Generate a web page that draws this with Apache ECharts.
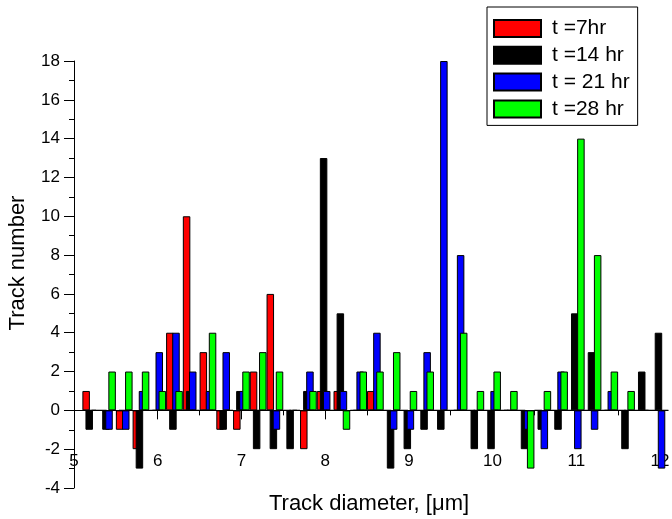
<!DOCTYPE html>
<html><head><meta charset="utf-8">
<script src="https://cdn.jsdelivr.net/npm/echarts@6/dist/echarts.min.js"></script>
<style>html,body{margin:0;padding:0;background:#fff}#c{width:672px;height:519px}</style>
</head><body><div id="c"></div>
<script>
// Bin centres (track diameter, µm)
const binCenters = [5.2,5.4,5.6,5.8,6.0,6.2,6.4,6.6,6.8,7.0,7.2,7.4,7.6,7.8,8.0,8.2,8.4,8.6,8.8,9.0,
                    9.2,9.4,9.6,9.8,10.0,10.2,10.4,10.6,10.8,11.0,11.2,11.4,11.6,11.8,12.0];
const seriesNames = ['t =7hr', 't =14 hr', 't = 21 hr', 't =28 hr'];
const t7hr  = [1,0,-1,-2,0,4,10,3,-1,-1,2,6,0,-2,1,1,0,1,0,0,0,0,0,0,0,0,0,0,0,0,0,0,0,0,0];
const t14hr = [-1,-1,0,-3,0,-1,1,0,-1,1,-2,-2,-2,1,13,5,0,0,-3,-2,-1,-1,0,-2,-2,0,-2,-1,-1,5,3,0,-2,2,4];
const t21hr = [0,-1,-1,1,3,4,2,1,3,1,0,-1,0,2,1,1,2,4,-1,-1,3,18,8,0,1,0,-1,-2,2,-2,-1,1,0,0,-3];
const t28hr = [0,2,2,2,1,1,0,4,0,2,3,2,0,1,0,-1,2,2,3,1,2,0,4,1,2,1,-3,1,2,14,8,2,1,0,0];
const colors = ['#ff0000', '#000000', '#0000ff', '#00ff00'];
const xTitle = 'Track diameter, [μm]';
const yTitle = 'Track number';

const FONT = '"Liberation Sans", Arial, sans-serif';
const allValues = [t7hr, t14hr, t21hr, t28hr];

const chart = echarts.init(document.getElementById('c'), null, {renderer: 'canvas'});
chart.setOption({
  animation: false,
  backgroundColor: '#ffffff',
  grid: {left: 74, right: 12, top: 61, bottom: 31, containLabel: false, outerBoundsMode: 'none'},
  legend: {
    orient: 'vertical',
    left: 487, top: 7,
    padding: [11, 8, 6, 6],
    itemWidth: 47, itemHeight: 17, itemGap: 5.8,
    borderColor: '#000', borderWidth: 1, backgroundColor: '#fff',
    icon: 'rect',
    textStyle: {fontFamily: FONT, fontSize: 21, color: '#000', lineHeight: 17, padding: [0, 0, 0, 6]},
    data: seriesNames
  },
  xAxis: {
    type: 'value', min: 5, max: 12, interval: 1,
    axisLine: {onZero: true, lineStyle: {color: '#000', width: 1}},
    axisTick: {length: 9, lineStyle: {color: '#000'}},
    minorTick: {show: true, splitNumber: 2, length: 5, lineStyle: {color: '#000'}},
    axisLabel: {fontFamily: FONT, fontSize: 17, color: '#000', margin: -35},
    splitLine: {show: false}
  },
  yAxis: {
    type: 'value', min: -4, max: 18, interval: 2,
    axisLine: {show: true, onZero: false, lineStyle: {color: '#000', width: 1}},
    axisTick: {show: true, length: 10, lineStyle: {color: '#000'}},
    minorTick: {show: true, splitNumber: 2, length: 5, lineStyle: {color: '#000'}},
    axisLabel: {fontFamily: FONT, fontSize: 17, color: '#000', margin: 14},
    splitLine: {show: false}
  },
  graphic: [
    {type: 'text', x: 369, y: 504, style: {text: xTitle, font: '22px ' + FONT, fill: '#000', align: 'center', verticalAlign: 'middle'}},
    {type: 'text', x: 18, y: 263, rotation: Math.PI / 2, style: {text: yTitle, font: '22px ' + FONT, fill: '#000', align: 'center', verticalAlign: 'middle'}}
  ],
  series: seriesNames.map((name, s) => ({
    name: name,
    type: 'bar',
    barWidth: 7.5,
    barGap: '-59%',
    clip: true,
    itemStyle: {color: colors[s], borderColor: '#000', borderWidth: 1},
    data: binCenters.map((x, i) => [x, allValues[s][i]])
  }))
});
</script></body></html>
